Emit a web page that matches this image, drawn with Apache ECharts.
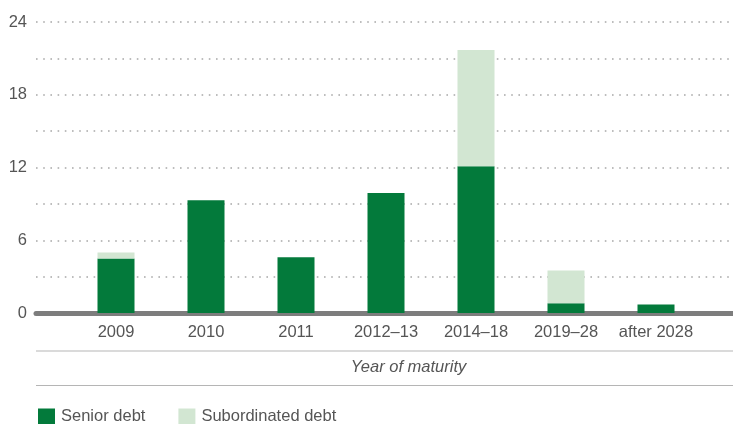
<!DOCTYPE html>
<html>
<head>
<meta charset="utf-8">
<script src="https://cdn.jsdelivr.net/npm/echarts@6/dist/echarts.min.js"></script>
<style>
html,body{margin:0;padding:0;background:#fff;}
#chart{width:733px;height:424px;}
</style>
</head>
<body>
<div id="chart"></div>
<script>
const categories = ['2009', '2010', '2011', '2012–13', '2014–18', '2019–28', 'after 2028'];
const seniorDebt = [4.5, 9.3, 4.6, 9.9, 12.1, 0.8, 0.7];
const subordinatedDebt = [0.5, 0, 0, 0, 9.6, 2.7, 0];
const yTickLabels = [0, 6, 12, 18, 24];
const axisTitle = 'Year of maturity';

const FONT = '"Liberation Sans", Arial, sans-serif';
const FS = 16.5;
const TXT = '#555555';
const chart = echarts.init(document.getElementById('chart'), null, {renderer: 'canvas'});

const option = {
  animation: false,
  backgroundColor: '#ffffff',
  textStyle: {fontFamily: FONT},
  grid: [
    {left: 36, right: 0, top: 22, bottom: 111},
    {left: 71, right: 32, top: 22, bottom: 111}
  ],
  xAxis: [
    {
      type: 'category', gridIndex: 0, data: [''],
      axisLine: {show: true, lineStyle: {color: '#7d7d7d', width: 5}},
      axisTick: {show: false}, axisLabel: {show: false}, splitLine: {show: false}
    },
    {
      type: 'category', gridIndex: 1, data: categories,
      axisLine: {show: false}, axisTick: {show: false},
      axisLabel: {color: TXT, fontSize: FS, fontFamily: FONT, margin: 11, interval: 0}
    }
  ],
  yAxis: [
    {
      type: 'value', gridIndex: 0, min: 0, max: 24, interval: 3,
      axisLine: {show: false}, axisTick: {show: false},
      axisLabel: {
        color: TXT, fontSize: FS, fontFamily: FONT, margin: 9,
        formatter: v => (yTickLabels.indexOf(v) >= 0 ? String(v) : '')
      },
      splitLine: {show: true, lineStyle: {color: '#a8a8a8', width: 1.6, type: [1.6, 5.6]}}
    },
    {
      type: 'value', gridIndex: 1, min: 0, max: 24, interval: 3,
      axisLine: {show: false}, axisTick: {show: false}, axisLabel: {show: false},
      splitLine: {show: false}
    }
  ],
  legend: {
    left: 33, top: 403,
    itemWidth: 17, itemHeight: 16, itemGap: 33,
    textStyle: {color: TXT, fontSize: FS, fontFamily: FONT, padding: [0, 0, 0, 1]},
    data: [
      {name: 'Senior debt', icon: 'rect'},
      {name: 'Subordinated debt', icon: 'rect'}
    ]
  },
  graphic: [
    {type: 'line', shape: {x1: 36, y1: 351, x2: 733, y2: 351}, style: {stroke: '#b5b5b5', lineWidth: 1.2}},
    {type: 'line', shape: {x1: 36, y1: 385.5, x2: 733, y2: 385.5}, style: {stroke: '#b5b5b5', lineWidth: 1.2}},
    {type: 'text', x: 408.5, y: 367.5, style: {text: axisTitle, fill: TXT, font: 'italic ' + FS + 'px ' + FONT, textAlign: 'center', textVerticalAlign: 'middle'}}
  ],
  series: [
    {
      name: 'Senior debt', type: 'bar', stack: 'debt', xAxisIndex: 1, yAxisIndex: 1,
      data: seniorDebt, barWidth: 37, itemStyle: {color: '#037a3b'}
    },
    {
      name: 'Subordinated debt', type: 'bar', stack: 'debt', xAxisIndex: 1, yAxisIndex: 1,
      data: subordinatedDebt, barWidth: 37, itemStyle: {color: '#d2e6d2'}
    }
  ]
};
chart.setOption(option);
</script>
</body>
</html>
